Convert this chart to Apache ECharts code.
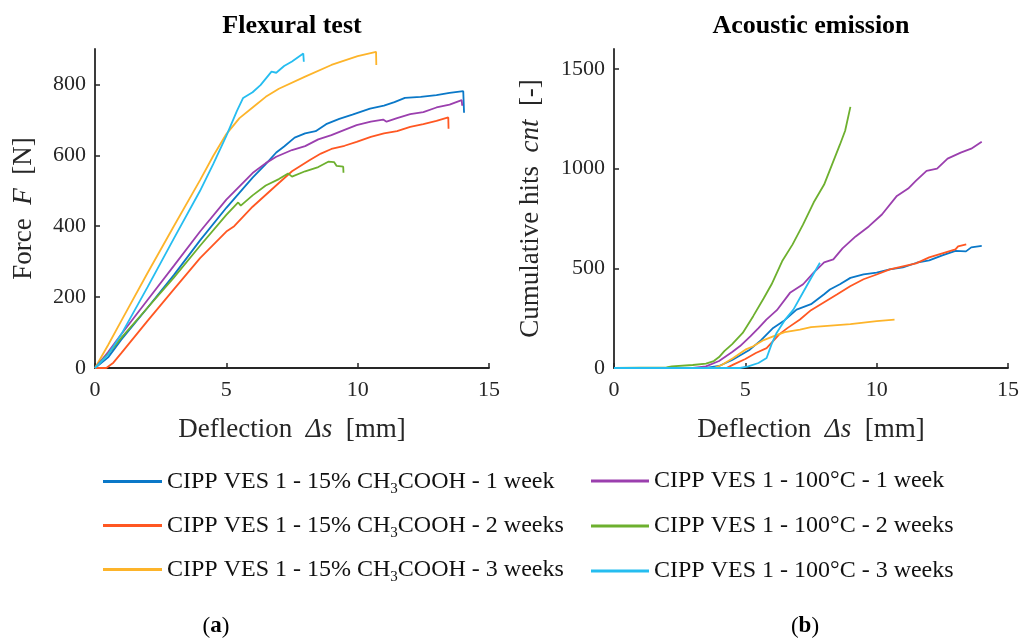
<!DOCTYPE html>
<html>
<head>
<meta charset="utf-8">
<script src="https://cdn.jsdelivr.net/npm/echarts@6/dist/echarts.min.js"></script>
<style>html,body{margin:0;padding:0;background:#fff}#c{width:1024px;height:639px}</style>
</head>
<body>
<div id="c"></div>
<script>
// ---- Series names ----
const seriesNames = [
  'CIPP VES 1 - 15% CH3COOH - 1 week',
  'CIPP VES 1 - 15% CH3COOH - 2 weeks',
  'CIPP VES 1 - 15% CH3COOH - 3 weeks',
  'CIPP VES 1 - 100°C - 1 week',
  'CIPP VES 1 - 100°C - 2 weeks',
  'CIPP VES 1 - 100°C - 3 weeks'
];
const colors = ['#0a78c8', '#ff5722', '#fdb42a', '#9b3fae', '#6db02e', '#25bdf0'];

// ---- Flexural test: [deflection mm, force N] ----
const flexAcid1 = [[0,0],[0.5,30],[1,80],[2,170],[3,262],[4,360],[5,452],[6,537],[6.5,575],[6.9,608],[7.2,625],[7.6,650],[8,662],[8.4,668],[8.8,688],[9.3,703],[9.8,715],[10.47,732],[11,740],[11.4,750],[11.8,762],[12.4,765],[13,770],[13.5,776],[14.02,781],[14.05,720]];
const flexAcid2 = [[0,0],[0.43,0],[0.7,15],[1,42],[2,133],[3,222],[4,310],[5,385],[5.3,400],[6,455],[7,522],[7.5,555],[8.18,587],[8.6,605],[9,618],[9.5,627],[9.96,638],[10.5,652],[11,662],[11.5,668],[12,680],[12.5,688],[13,697],[13.45,707],[13.46,675]];
const flexAcid3 = [[0,0],[0.5,65],[1,133],[2,268],[3,400],[4,530],[4.5,598],[5,660],[5.5,705],[6,735],[6.5,765],[7,788],[8,822],[9,855],[10,880],[10.7,892],[10.71,855]];
const flexHeat1 = [[0,0],[0.5,45],[1,95],[2,192],[3,288],[4,385],[5,475],[6,550],[6.5,578],[6.9,596],[7.5,615],[8,626],[8.5,645],[9,657],[9.5,672],[9.96,685],[10.5,695],[10.97,701],[11.1,695],[11.5,705],[12,716],[12.5,722],[13,735],[13.5,743],[13.96,756],[13.98,740]];
const flexHeat2 = [[0,0],[0.5,40],[1,85],[2,170],[3,255],[4,345],[5,432],[5.45,467],[5.55,458],[6,487],[6.5,515],[7,533],[7.35,549],[7.5,540],[8,555],[8.5,567],[8.88,582],[9.1,581],[9.2,570],[9.45,568],[9.46,551]];
const flexHeat3 = [[0,0],[0.5,38],[1,95],[2,228],[3,365],[4,500],[4.5,575],[5,655],[5.4,725],[5.64,762],[6,778],[6.3,798],[6.72,836],[6.9,833],[7.2,852],[7.5,865],[7.93,887],[7.95,864]];

// ---- Acoustic emission: [deflection mm, cumulative hits] ----
const aeAcid1 = [[0,0],[3.5,0],[4,10],[4.5,40],[5.17,92],[5.6,140],[6.06,201],[6.5,240],[6.95,293],[7.5,320],[8,370],[8.22,394],[8.6,420],[9,452],[9.5,470],[10,478],[10.5,495],[11,505],[11.53,528],[12,540],[12.5,565],[13,587],[13.4,585],[13.6,605],[14,612]];
const aeAcid2 = [[0,0],[4.28,0],[4.54,17],[5,45],[5.4,75],[5.81,100],[6.3,170],[6.6,200],[7.08,243],[7.5,290],[8,330],[8.5,370],[8.99,410],[9.5,445],[10,469],[10.5,495],[11,510],[11.5,525],[12,555],[12.5,575],[13,595],[13.1,610],[13.41,620]];
const aeAcid3 = [[0,0],[3.8,0],[4.1,15],[4.54,50],[5,92],[5.3,109],[5.7,140],[6.06,159],[6.5,180],[7.08,193],[7.5,205],[8,210],[9,220],[10,235],[10.68,243]];
const aeHeat1 = [[0,0],[3,0],[3.5,8],[4,35],[4.5,80],[4.8,110],[5.2,160],[5.5,200],[5.8,243],[6.2,290],[6.7,377],[7.2,420],[7.6,478],[8,530],[8.35,545],[8.7,600],[9.2,660],[9.7,710],[10.2,770],[10.77,863],[11.2,900],[11.5,940],[11.9,989],[12.3,1000],[12.7,1050],[13.2,1080],[13.6,1100],[14,1135]];
const aeHeat2 = [[0,0],[2,3],[2.2,8],[3,15],[3.5,22],[3.8,35],[4,55],[4.2,85],[4.5,120],[4.9,176],[5.3,260],[5.7,350],[6,420],[6.4,535],[6.8,620],[7.2,720],[7.6,830],[8,920],[8.3,1020],[8.6,1120],[8.8,1190],[9,1310]];
const aeHeat3 = [[0,0],[4.8,0],[5.11,8],[5.5,25],[5.81,50],[6.0,120],[6.19,176],[6.5,240],[6.83,293],[7.2,380],[7.5,450],[7.84,528]];

// ---- Axis ticks ----
const xTicks = [0, 5, 10, 15];
const flexYTicks = [0, 200, 400, 600, 800];
const aeYTicks = [0, 500, 1000, 1500];

const flexData = [flexAcid1, flexAcid2, flexAcid3, flexHeat1, flexHeat2, flexHeat3];
const aeData = [aeAcid1, aeAcid2, aeAcid3, aeHeat1, aeHeat2, aeHeat3];

const FONT = 'Liberation Serif';
const AX = '#262626';
const plainNum = v => String(v);

function nameStyle() {
  return { color: AX, fontFamily: FONT, fontSize: 27, rich: { i: { fontFamily: FONT, fontSize: 27, fontStyle: 'italic', color: AX } } };
}
function xAxisFor(gi) {
  return {
    gridIndex: gi, type: 'value', min: 0, max: 15, interval: 5,
    axisLine: { show: true, onZero: false, lineStyle: { color: AX, width: 1.8 } },
    axisTick: { show: true, inside: true, length: 5, lineStyle: { color: AX, width: 1.5 }, customValues: xTicks },
    axisLabel: { color: AX, fontFamily: FONT, fontSize: 22, margin: 11, customValues: xTicks, formatter: plainNum },
    splitLine: { show: false },
    name: 'Deflection  {i|Δs}  [mm]', nameLocation: 'middle', nameGap: 48,
    nameTextStyle: nameStyle()
  };
}
function yAxisFor(gi, max, ticks, name, gap) {
  return {
    gridIndex: gi, type: 'value', min: 0, max: max,
    axisLine: { show: true, onZero: false, lineStyle: { color: AX, width: 1.8 } },
    axisTick: { show: true, inside: true, length: 5, lineStyle: { color: AX, width: 1.5 }, customValues: ticks },
    axisLabel: { color: AX, fontFamily: FONT, fontSize: 22, margin: 9, customValues: ticks, formatter: plainNum },
    splitLine: { show: false },
    name: name, nameLocation: 'middle', nameGap: gap,
    nameTextStyle: nameStyle()
  };
}

const series = [];
seriesNames.forEach((n, i) => {
  series.push({ name: n, type: 'line', xAxisIndex: 0, yAxisIndex: 0, data: flexData[i], showSymbol: false, symbol: 'none', lineStyle: { width: 1.8, color: colors[i] }, itemStyle: { color: colors[i] }, animation: false });
});
seriesNames.forEach((n, i) => {
  series.push({ name: n, type: 'line', xAxisIndex: 1, yAxisIndex: 1, data: aeData[i], showSymbol: false, symbol: 'none', lineStyle: { width: 1.8, color: colors[i] }, itemStyle: { color: colors[i] }, animation: false });
});

const legendText = {
  color: '#111', fontFamily: FONT, fontSize: 24, lineHeight: 24,
  rich: { sub: { fontFamily: FONT, fontSize: 15, lineHeight: 24, padding: [16, 0, 0, 0], color: '#111' } }
};
function legendFmt(name) { return name.replace('CH3', 'CH{sub|3}'); }

const option = {
  backgroundColor: '#fff',
  animation: false,
  color: colors,
  title: [
    { text: 'Flexural test', left: 292, top: 13, textAlign: 'center', padding: 0, textStyle: { fontFamily: FONT, fontSize: 26, fontWeight: 'bold', color: '#000' } },
    { text: 'Acoustic emission', left: 811, top: 13, textAlign: 'center', padding: 0, textStyle: { fontFamily: FONT, fontSize: 26, fontWeight: 'bold', color: '#000' } },
    { text: '({b|a})', left: 216, top: 615, textAlign: 'center', padding: 0, textStyle: { fontFamily: FONT, fontSize: 23, fontWeight: 'normal', color: '#000', rich: { b: { fontFamily: FONT, fontSize: 23, fontWeight: 'bold', color: '#000' } } } },
    { text: '({b|b})', left: 805, top: 615, textAlign: 'center', padding: 0, textStyle: { fontFamily: FONT, fontSize: 23, fontWeight: 'normal', color: '#000', rich: { b: { fontFamily: FONT, fontSize: 23, fontWeight: 'bold', color: '#000' } } } }
  ],
  grid: [
    { left: 95, top: 49, width: 394, height: 319 },
    { left: 614, top: 49, width: 394, height: 319 }
  ],
  xAxis: [xAxisFor(0), xAxisFor(1)],
  yAxis: [
    yAxisFor(0, 900, flexYTicks, 'Force  {i|F}  [N]', 58),
    yAxisFor(1, 1600, aeYTicks, 'Cumulative hits  {i|cnt}  [-]', 70)
  ],
  legend: [
    { data: seriesNames.slice(0, 3), orient: 'vertical', left: 103, top: 466, itemWidth: 59, itemHeight: 3, icon: 'rect', itemGap: 13, padding: 0, selectedMode: false, formatter: legendFmt, textStyle: legendText },
    { data: seriesNames.slice(3, 6), orient: 'vertical', left: 591, top: 469, itemWidth: 58, itemHeight: 3, icon: 'rect', itemGap: 21, padding: 0, selectedMode: false, formatter: legendFmt, textStyle: legendText }
  ],
  series: series
};

const chart = echarts.init(document.getElementById('c'), null, { renderer: 'canvas' });
chart.setOption(option);
</script>
</body>
</html>
